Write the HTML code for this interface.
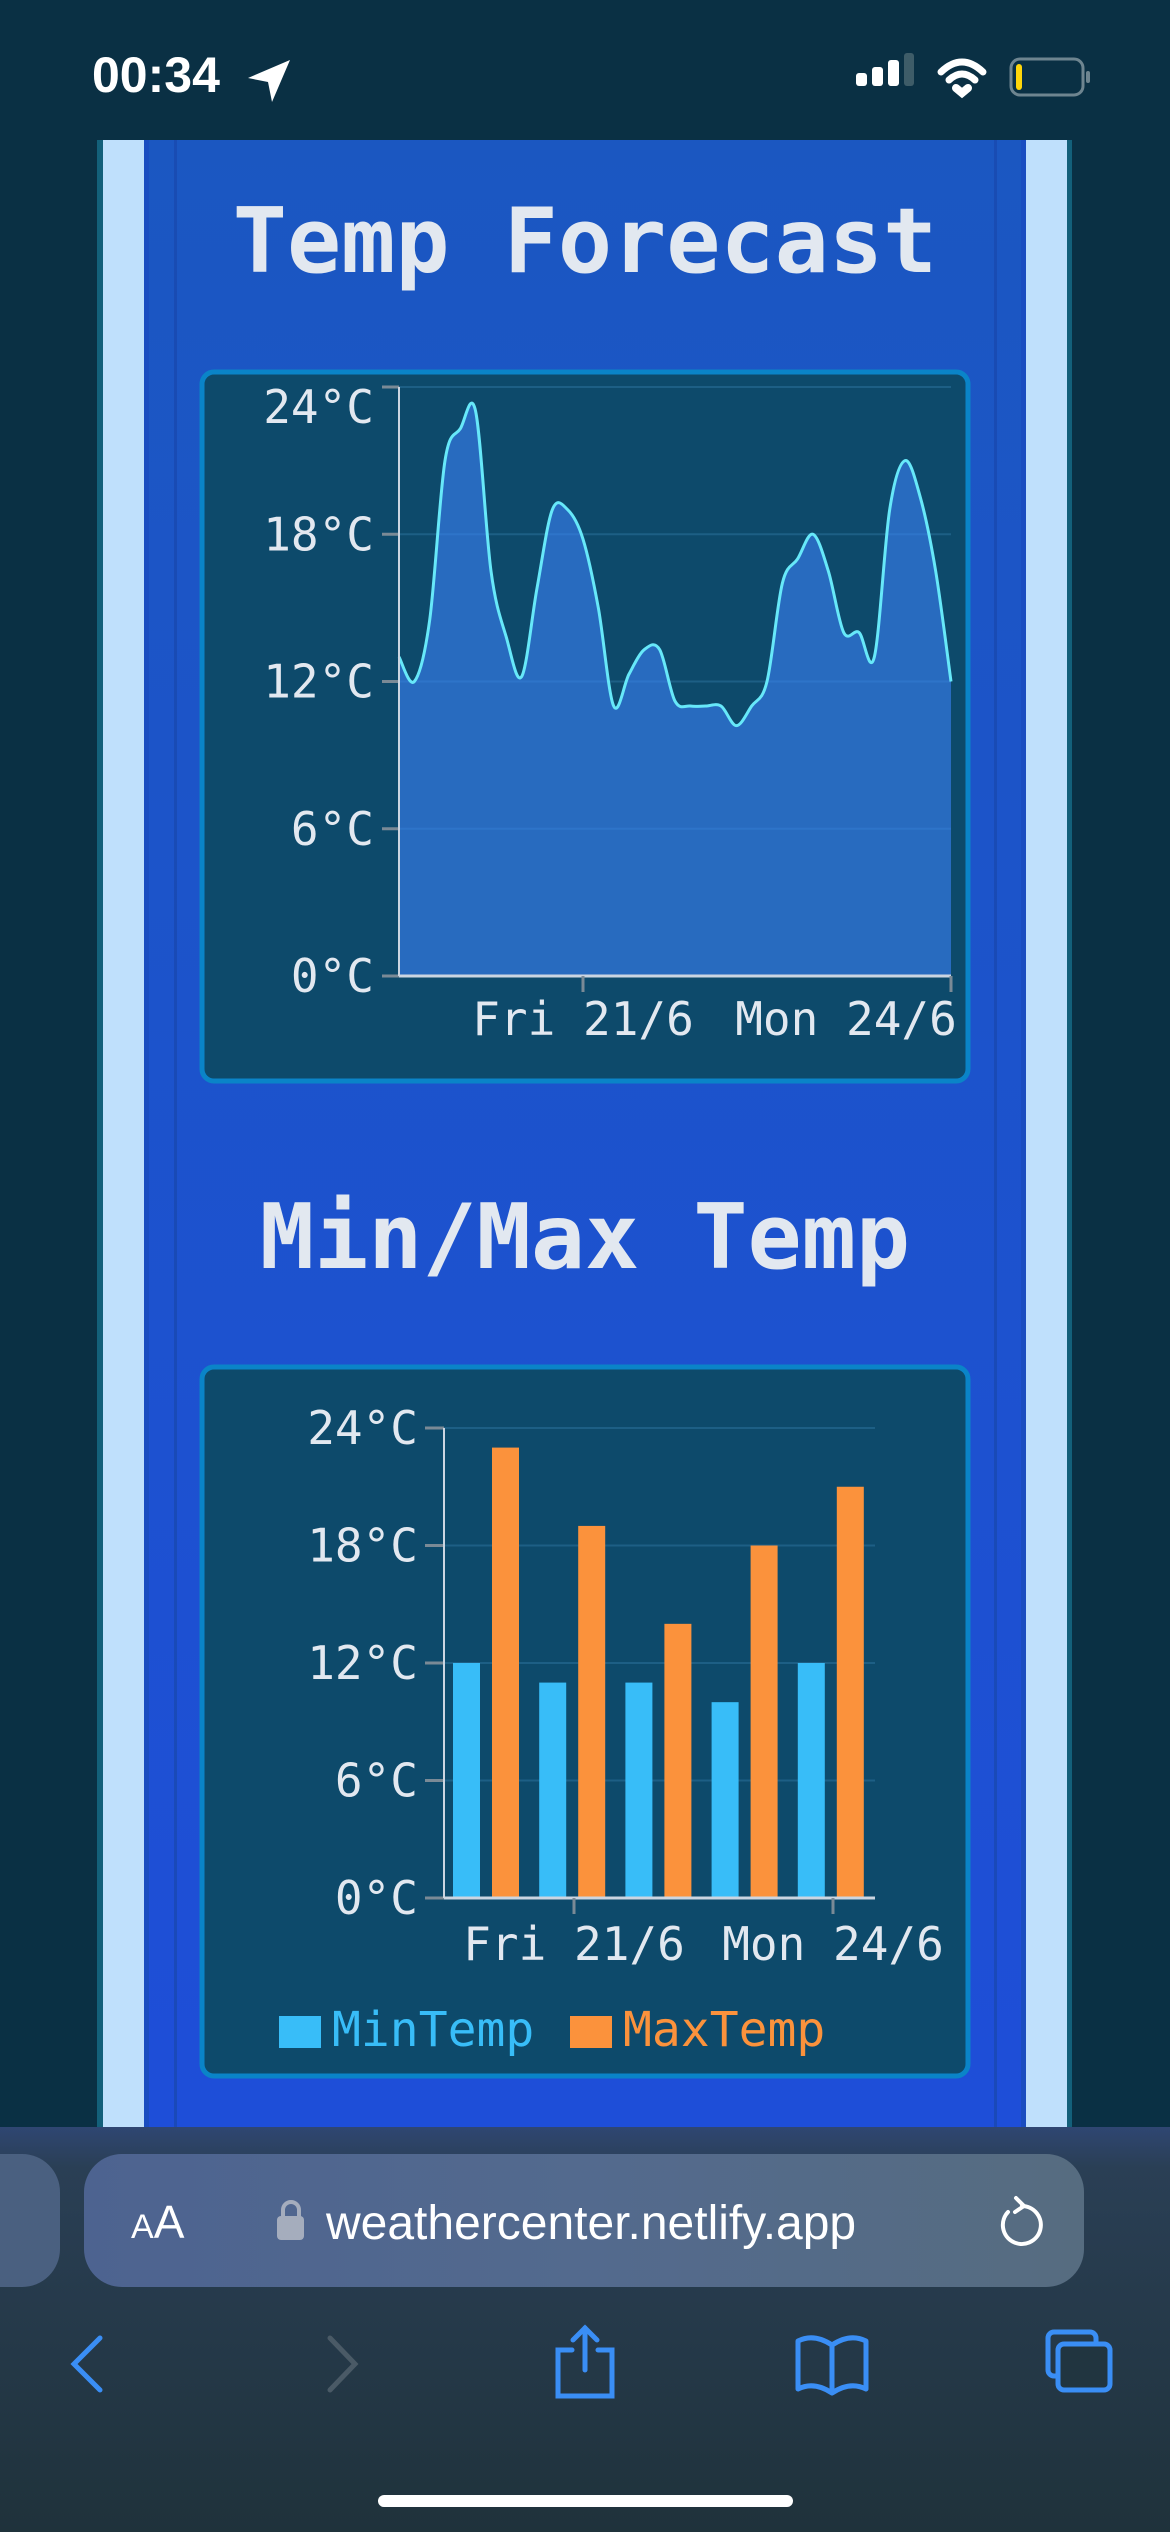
<!DOCTYPE html>
<html><head><meta charset="utf-8">
<style>
html,body{margin:0;padding:0;background:#0a3044;}
svg{display:block;}
.mono{font-family:"DejaVu Sans Mono","Liberation Mono",monospace;}
.sans{font-family:"Liberation Sans",sans-serif;}
</style></head>
<body>
<svg id="page" width="1170" height="2532" viewBox="0 0 1170 2532" xmlns="http://www.w3.org/2000/svg">
<defs>
<linearGradient id="panelGrad" x1="0" y1="0" x2="0" y2="1"><stop offset="0" stop-color="#1b57c1"/><stop offset="1" stop-color="#1e4ed8"/></linearGradient>
<linearGradient id="barGrad" x1="0" y1="0" x2="0" y2="1"><stop offset="0" stop-color="#2f4672"/><stop offset="0.1" stop-color="#2a3f55"/><stop offset="1" stop-color="#1f323b"/></linearGradient>
<linearGradient id="pillGrad" x1="0" y1="0" x2="1" y2="0"><stop offset="0" stop-color="#4d6390"/><stop offset="0.5" stop-color="#536a8e"/><stop offset="1" stop-color="#566c80"/></linearGradient>
</defs>
<rect width="1170" height="2532" fill="#0a3044"/>
<g>
<text x="92" y="92" class="sans" font-size="50" font-weight="bold" fill="#ffffff">00:34</text>
<path d="M248 78 L290 60 L272 102 L268 82 Z" fill="#fff"/>
<g>
<rect x="856" y="73" width="11" height="13" rx="3" fill="#fff"/><rect x="872" y="67" width="11" height="19" rx="3" fill="#fff"/><rect x="888" y="60" width="11" height="26" rx="3" fill="#fff"/><rect x="904" y="53" width="10" height="33" rx="3" fill="#3e5c68"/>
</g>
<g fill="none" stroke="#fff" stroke-width="7" stroke-linecap="round">
<path d="M941 72 Q962 52 983 72"/><path d="M949 80 Q962 68 975 80"/><path d="M956 88 L962 93 L968 88" stroke-width="8"/>
</g>
<g>
<rect x="1011" y="59" width="72" height="36" rx="9" fill="none" stroke="#6e8590" stroke-width="3"/>
<rect x="1016" y="64" width="6" height="26" rx="3" fill="#ffd60a"/>
<rect x="1086" y="71" width="4" height="12" rx="2" fill="#6e8590"/>
</g>
</g>
<g>
<rect x="97" y="140" width="975" height="1987" fill="#13607a"/>
<rect x="103" y="140" width="41" height="1987" fill="#bfe0fc"/>
<rect x="1026" y="140" width="41" height="1987" fill="#bfe0fc"/>
<rect x="144" y="140" width="882" height="1987" fill="#1a4dc0"/>
<rect x="149" y="140" width="872" height="1987" fill="url(#panelGrad)"/>
<rect x="174" y="140" width="3" height="1987" fill="#1847ad" opacity="0.7"/>
<rect x="994" y="140" width="3" height="1987" fill="#1847ad" opacity="0.7"/>
</g>
<text x="585" y="272" text-anchor="middle" class="mono" font-size="90" font-weight="bold" fill="#e2e8f0">Temp Forecast</text>
<rect x="202" y="372" width="766" height="709" rx="12" fill="#0d4a6b" stroke="#0a84c8" stroke-width="5"/>
<g id="areaChart"></g>
<text x="585" y="1268" text-anchor="middle" class="mono" font-size="90" font-weight="bold" fill="#e2e8f0">Min/Max Temp</text>
<rect x="202" y="1367" width="766" height="709" rx="12" fill="#0d4a6b" stroke="#0a84c8" stroke-width="5"/>
<g id="barChart"></g>
<g>
<rect x="0" y="2127" width="1170" height="405" fill="url(#barGrad)"/>
<rect x="-40" y="2154" width="100" height="133" rx="38" fill="#4a6080"/>
<rect x="84" y="2154" width="1000" height="133" rx="38" fill="url(#pillGrad)"/>
<text x="131" y="2238" class="sans" font-size="34" fill="#fff">A<tspan font-size="46">A</tspan></text>
<g><rect x="277" y="2216" width="27" height="24" rx="4" fill="#a5adbd"/><path d="M283 2217 v-7 a8 8 0 0 1 16 0 v7" fill="none" stroke="#a5adbd" stroke-width="4"/></g>
<text x="326" y="2239" class="sans" font-size="48" fill="#ffffff">weathercenter.netlify.app</text>
<g fill="none" stroke="#fff" stroke-width="4" stroke-linecap="round"><path d="M1008 2212 a19 19 0 1 0 14 -6"/><path d="M1016 2198 l8 8 l-9 6"/></g>
<path d="M100 2338 L74 2364 L100 2390" fill="none" stroke="#3a8ef5" stroke-width="5" stroke-linecap="round"/>
<path d="M330 2338 L355 2364 L330 2390" fill="none" stroke="#4a5a66" stroke-width="5" stroke-linecap="round"/>
<g fill="none" stroke="#3a8ef5" stroke-width="5" stroke-linecap="round"><path d="M572 2350 h-14 v46 h54 v-46 h-14"/><path d="M585 2328 v42"/><path d="M573 2340 l12 -12 l12 12"/></g>
<g fill="none" stroke="#3a8ef5" stroke-width="5" stroke-linejoin="round"><path d="M832 2345 q-18 -12 -34 -4 v48 q16 -8 34 4 q18 -12 34 -4 v-48 q-16 -8 -34 4 z"/><path d="M832 2345 v48"/></g>
<g fill="none" stroke="#3a8ef5" stroke-width="5"><rect x="1048" y="2332" width="48" height="44" rx="6"/><rect x="1058" y="2344" width="52" height="46" rx="6" fill="#213540"/></g>
<rect x="378" y="2495" width="415" height="12" rx="6" fill="#ffffff"/>
</g>
</svg>
<script>
const areaTemps = [13,12,14.5,21,22.3,23,16.5,13.8,12.2,15.8,19,19,17.8,15,11,12.3,13.3,13.3,11.2,11,11,11,10.2,11,12,16,17,18,16.5,14,14,13,19,21,19.5,16.5,12];
const areaStartHour = 0;
const areaStepHours = 3;
const areaYTicks = [0,6,12,18,24];
const areaYTickLabels = ["0°C","6°C","12°C","18°C","24°C"];
const areaXTickHours = [36,108];
const areaXTickLabels = ["Fri 21/6","Mon 24/6"];
const barCategories = ["Thu","Fri","Sat","Sun","Mon"];
const minTemps = [12,11,11,10,12];
const maxTemps = [23,19,14,18,21];
const barYTicks = [0,6,12,18,24];
const barYTickLabels = ["0°C","6°C","12°C","18°C","24°C"];
const barXTickIndex = [1.5,4.5];
const barXTickLabels = ["Fri 21/6","Mon 24/6"];

const NS="http://www.w3.org/2000/svg";
function mk(parent,tag,attrs){const e=document.createElementNS(NS,tag);for(const k in attrs)e.setAttribute(k,attrs[k]);parent.appendChild(e);return e;}

(function(){
const g=document.getElementById('areaChart');
const x0=399,x1=951,yb=976,yt=387;
const totalH=(areaTemps.length-1)*areaStepHours;
const xs=h=>x0+(h-areaStartHour)/totalH*(x1-x0);
const ys=v=>yb-v/24*(yb-yt);
areaYTicks.forEach((t,i)=>{
  const gl=mk(g,'line',{x1:x0,x2:x1,y1:ys(t),y2:ys(t),stroke:'#1d5f85','stroke-width':2});
  
  
  const tk=mk(g,'line',{x1:x0-17,x2:x0,y1:ys(t),y2:ys(t),stroke:'#7a8a96','stroke-width':3});
  
  
  const ly=Math.max(ys(t),ys(24)+20);
  const tx=mk(g,'text',{x:374,y:ly+16,'text-anchor':'end',class:'mono','font-size':46,fill:'#e2e8f0'});
  tx.textContent=areaYTickLabels[i];
  
  
});
const pts=areaTemps.map((v,i)=>[xs(areaStartHour+i*areaStepHours),ys(v)]);
let d='M'+pts[0][0]+','+pts[0][1];
for(let i=0;i<pts.length-1;i++){
  const p0=pts[Math.max(0,i-1)],p1=pts[i],p2=pts[i+1],p3=pts[Math.min(pts.length-1,i+2)];
  const c1=[p1[0]+(p2[0]-p0[0])/6,p1[1]+(p2[1]-p0[1])/6];
  const c2=[p2[0]-(p3[0]-p1[0])/6,p2[1]-(p3[1]-p1[1])/6];
  d+=' C'+c1[0]+','+c1[1]+' '+c2[0]+','+c2[1]+' '+p2[0]+','+p2[1];
}
const area=mk(g,'path',{d:d+' L'+x1+','+yb+' L'+x0+','+yb+' Z',fill:'#3b82f6','fill-opacity':0.6});


const line=mk(g,'path',{d:d,fill:'none',stroke:'#67e8f9','stroke-width':3});


const ax=mk(g,'line',{x1:x0,x2:x0,y1:yt,y2:yb,stroke:'#cbd5e1','stroke-width':2});


const bx=mk(g,'line',{x1:x0,x2:x1,y1:yb,y2:yb,stroke:'#cbd5e1','stroke-width':3});


areaXTickHours.forEach((h,i)=>{
  const tk=mk(g,'line',{x1:xs(h),x2:xs(h),y1:yb,y2:yb+16,stroke:'#7a8a96','stroke-width':3});
  
  
  const tx=mk(g,'text',{x:Math.min(xs(h),846),y:1035,'text-anchor':'middle',class:'mono','font-size':46,fill:'#e2e8f0'});
  tx.textContent=areaXTickLabels[i];
  
  
});
})();

(function(){
const g=document.getElementById('barChart');
const x0=444,x1=875,yb=1898,yt=1428;
const band=(x1-x0)/barCategories.length;
const ys=v=>yb-v/24*(yb-yt);
barYTicks.forEach((t,i)=>{
  const gl=mk(g,'line',{x1:x0,x2:x1,y1:ys(t),y2:ys(t),stroke:'#1d5f85','stroke-width':2});
  
  
  const tk=mk(g,'line',{x1:x0-19,x2:x0,y1:ys(t),y2:ys(t),stroke:'#7a8a96','stroke-width':3});
  
  
  const tx=mk(g,'text',{x:418,y:ys(t)+16,'text-anchor':'end',class:'mono','font-size':46,fill:'#e2e8f0'});
  tx.textContent=barYTickLabels[i];
  
  
});
barCategories.forEach((c,i)=>{
  const bx=x0+i*band;
  const r1=mk(g,'rect',{x:bx+9,y:ys(minTemps[i]),width:27,height:yb-ys(minTemps[i]),fill:'#38bdf8'});
  
  
  const r2=mk(g,'rect',{x:bx+48,y:ys(maxTemps[i]),width:27,height:yb-ys(maxTemps[i]),fill:'#fb923c'});
  
  
});
const ax=mk(g,'line',{x1:x0,x2:x0,y1:yt,y2:yb,stroke:'#cbd5e1','stroke-width':2});


const bxl=mk(g,'line',{x1:x0,x2:x1,y1:yb,y2:yb,stroke:'#cbd5e1','stroke-width':3});


barXTickIndex.forEach((t,i)=>{
  const px=i===0?574:833;
  const tk=mk(g,'line',{x1:px,x2:px,y1:yb,y2:yb+16,stroke:'#7a8a96','stroke-width':3});
  
  
  const tx=mk(g,'text',{x:px,y:1960,'text-anchor':'middle',class:'mono','font-size':46,fill:'#e2e8f0'});
  tx.textContent=barXTickLabels[i];
  
  
});
const leg=[{x:279,c:'#38bdf8',t:'MinTemp'},{x:570,c:'#fb923c',t:'MaxTemp'}];
leg.forEach(l=>{
  const s=mk(g,'rect',{x:l.x,y:2016,width:42,height:32,fill:l.c});
  
  
  const tx=mk(g,'text',{x:l.x+53,y:2046,class:'mono','font-size':48,fill:l.c});
  tx.textContent=l.t;
  
  
});
})();
</script>
</body></html>
